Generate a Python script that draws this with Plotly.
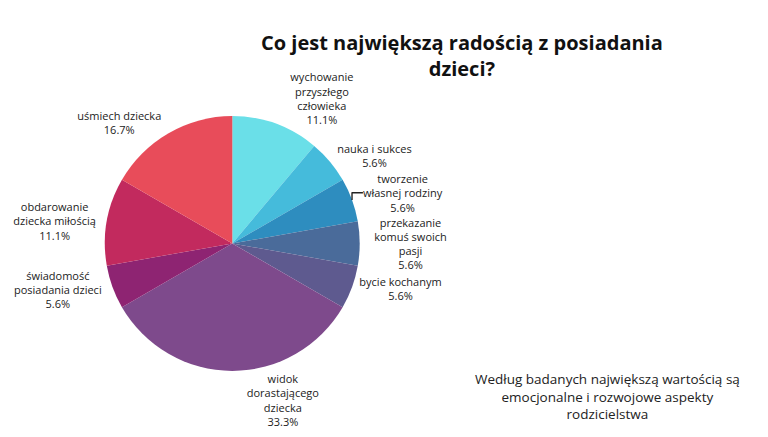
import plotly.graph_objects as go

labels = ["wychowanie<br>przyszłego<br>człowieka", "nauka i sukces", "tworzenie<br>własnej rodziny",
          "przekazanie<br>komuś swoich<br>pasji", "bycie kochanym", "widok<br>dorastającego<br>dziecka",
          "świadomość<br>posiadania dzieci", "obdarowanie<br>dziecka miłością", "uśmiech dziecka"]
values = [2, 1, 1, 1, 1, 6, 1, 2, 3]
colors = ["#6ADFE8", "#45BBDB", "#2E8DBF", "#4A6B9A", "#5E5A8F", "#7E4A8C", "#8E2472", "#C22A5E", "#E84C5A"]

fig = go.Figure(go.Pie(
    labels=labels, values=values, sort=False, direction="clockwise", rotation=0,
    marker=dict(colors=colors, line=dict(width=0)),
    textposition="outside", texttemplate="%{label}<br>%{percent:.1%}",
    textfont=dict(family="Open Sans", size=11, color="#222"),
    showlegend=False, domain=dict(x=[78/768, 340/768], y=[1-367/437, 1-104/437]),
))
fig.update_layout(
    width=768, height=437, margin=dict(l=0, r=0, t=0, b=0),
    paper_bgcolor="white", plot_bgcolor="white",
    annotations=[
        dict(text="<b>Co jest największą radością z posiadania<br>dzieci?</b>", x=445/768, y=1-48/437,
             xanchor="center", yanchor="middle",
             xref="paper", yref="paper", showarrow=False, font=dict(family="Open Sans", size=20, color="#111")),
        dict(text="Według badanych największą wartością są<br>emocjonalne i rozwojowe aspekty<br>rodzicielstwa",
             x=595/768, y=1-388/437, xanchor="center", yanchor="middle",
             xref="paper", yref="paper", showarrow=False,
             font=dict(family="Open Sans", size=13.5, color="#222")),
    ],
)
fig.write_html("out.html")
